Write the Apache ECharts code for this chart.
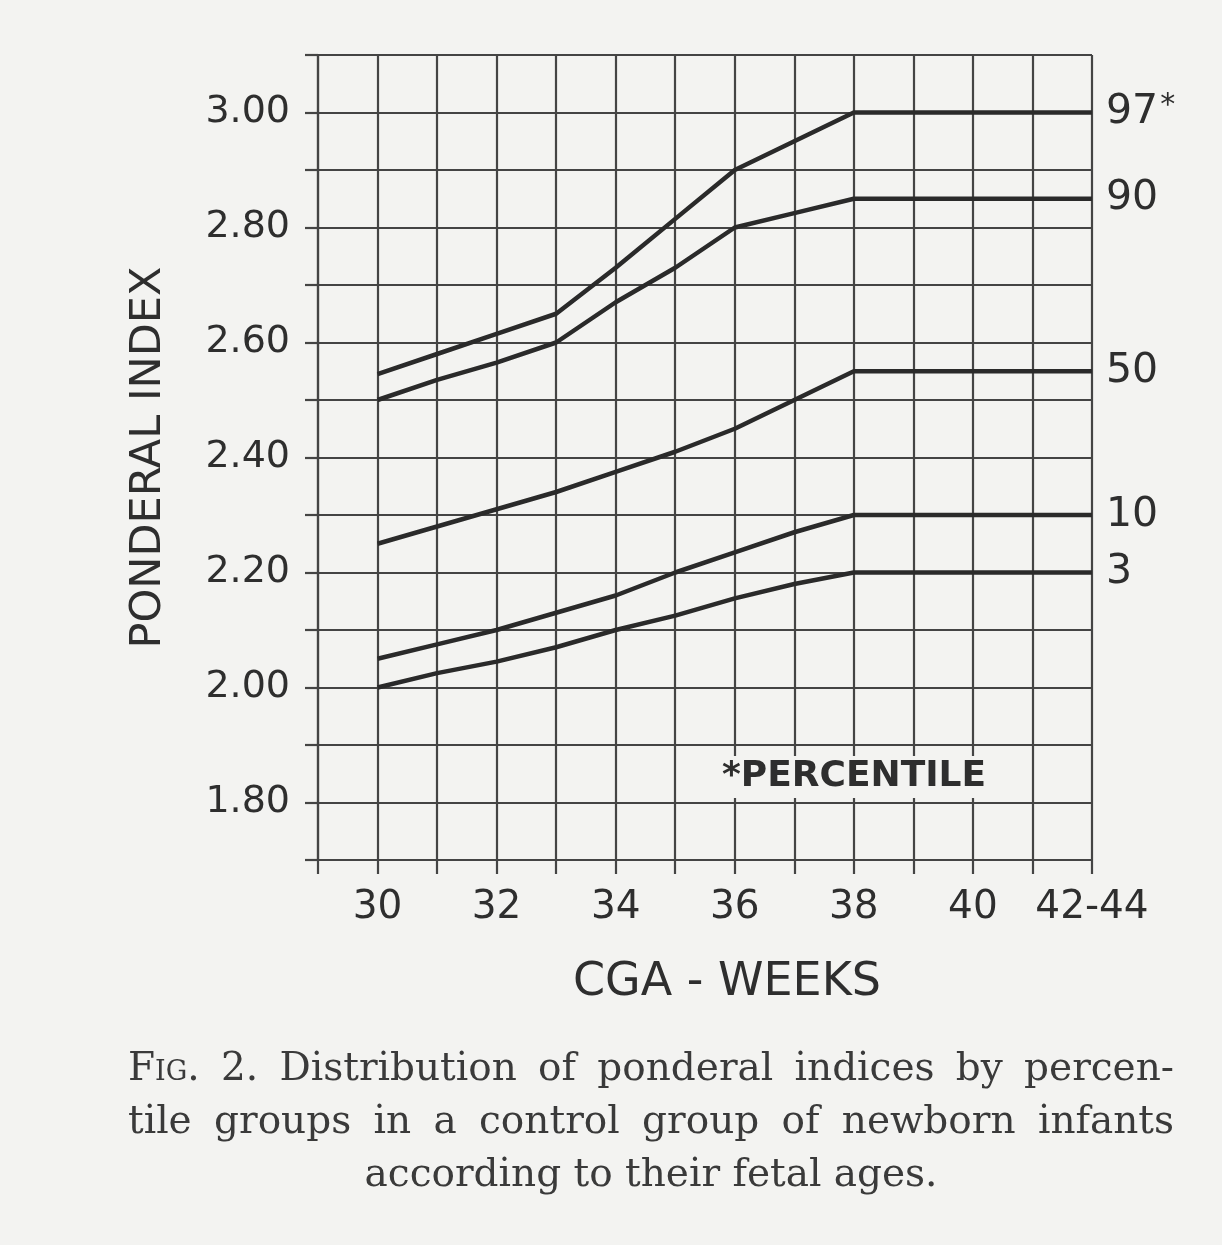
<!DOCTYPE html>
<html>
<head>
<meta charset="utf-8">
<script src="https://cdn.jsdelivr.net/npm/echarts@6/dist/echarts.min.js"></script>
<style>
    html, body { margin: 0; padding: 0; background: #f3f3f1; }
    #chart { width: 1222px; height: 1245px; }
    .caption {
        position: absolute;
        left: 128px;
        width: 1046px;
        font-family: "DejaVu Serif", serif;
        font-size: 39px;
        color: #3a3a3a;
        line-height: 53px;
        white-space: nowrap;
    }
    .caption div { text-align: justify; text-align-last: justify; }
    .caption div.last { text-align: center; text-align-last: center; }
    .sc { font-variant: small-caps; }
</style>
</head>
<body>
<div id="chart"></div>
<div class="caption" style="top: 1040px;">
    <div><span class="sc">Fig</span>. 2. Distribution of ponderal indices by percen-</div>
    <div>tile groups in a control group of newborn infants</div>
    <div class="last">according to their fetal ages.</div>
</div>
<script>
// CGA weeks (42 stands for the "42-44" column)
const weeks = [30, 31, 32, 33, 34, 35, 36, 37, 38, 42]

// ponderal index by percentile group
const p97 = [2.545, 2.58, 2.615, 2.65, 2.73, 2.815, 2.90, 2.95, 3.00, 3.00]
const p90 = [2.50, 2.535, 2.565, 2.60, 2.67, 2.73, 2.80, 2.825, 2.85, 2.85]
const p50 = [2.25, 2.28, 2.31, 2.34, 2.375, 2.41, 2.45, 2.50, 2.55, 2.55]
const p10 = [2.05, 2.075, 2.10, 2.13, 2.16, 2.20, 2.235, 2.27, 2.30, 2.30]
const p3 = [2.00, 2.025, 2.045, 2.07, 2.10, 2.125, 2.155, 2.18, 2.20, 2.20]

const seriesNames = ['97', '90', '50', '10', '3']
const seriesValues = [p97, p90, p50, p10, p3]

const xTickLabels = { 30: '30', 32: '32', 34: '34', 36: '36', 38: '38', 40: '40', 42: '42-44' }
const yTickLabels = ['1.80', '2.00', '2.20', '2.40', '2.60', '2.80', '3.00']

const ink = '#2e2e2e'
const gridInk = '#444444'
const font = '"DejaVu Sans", sans-serif'

const chart = echarts.init(document.getElementById('chart'))

const series = []
for (let i = 0; i < seriesNames.length; i++) {
    series.push({
        name: seriesNames[i],
        type: 'line',
        data: weeks.map((w, j) => [w, seriesValues[i][j]]),
        symbol: 'none',
        lineStyle: { color: '#2a2a2a', width: 4.5 },
        endLabel: {
            show: true,
            distance: 14,
            color: ink,
            fontFamily: font,
            fontSize: 41,
            formatter(params) {
                return params.seriesName === '97' ? '97{s|*}' : params.seriesName
            },
            rich: {
                s: { fontSize: 30, fontFamily: font, color: ink, verticalAlign: 'top', padding: [0, 0, 12, 2] }
            }
        },
        silent: true,
        z: 3
    })
}

const option = {
    backgroundColor: '#f3f3f1',
    animation: false,
    grid: {
        left: 318,
        right: 130,
        top: 55,
        bottom: 385
    },
    xAxis: {
        type: 'value',
        min: 29,
        max: 42,
        interval: 1,
        name: 'CGA - WEEKS',
        nameLocation: 'middle',
        nameGap: 100,
        nameTextStyle: {
            color: ink,
            fontFamily: font,
            fontSize: 46,
            padding: [0, 0, 0, 44]
        },
        axisLine: { show: true, lineStyle: { color: gridInk, width: 2.2 } },
        axisTick: { show: true, inside: false, length: 14, lineStyle: { color: gridInk, width: 2.2 } },
        axisLabel: {
            margin: 28,
            color: ink,
            fontFamily: font,
            fontSize: 39,
            formatter(v) {
                return xTickLabels[v] || ''
            }
        },
        splitLine: { show: true, lineStyle: { color: gridInk, width: 2.2 } }
    },
    yAxis: {
        type: 'value',
        min: 1.7,
        max: 3.1,
        interval: 0.1,
        name: 'PONDERAL INDEX',
        nameLocation: 'middle',
        nameRotate: 90,
        nameGap: 148,
        nameTextStyle: {
            color: ink,
            fontFamily: font,
            fontSize: 43
        },
        axisLine: { show: true, lineStyle: { color: gridInk, width: 2.2 } },
        axisTick: { show: true, inside: false, length: 13, lineStyle: { color: gridInk, width: 2.2 } },
        axisLabel: {
            margin: 28,
            color: ink,
            fontFamily: font,
            fontSize: 38,
            formatter(v) {
                const s = v.toFixed(2)
                return yTickLabels.indexOf(s) >= 0 ? s : ''
            }
        },
        splitLine: { show: true, lineStyle: { color: gridInk, width: 2.2 } }
    },
    graphic: [{
        type: 'text',
        left: 714,
        top: 756,
        z: 10,
        style: {
            text: '*PERCENTILE',
            fill: ink,
            font: 'bold 36px "DejaVu Sans", sans-serif',
            backgroundColor: '#f3f3f1',
            padding: [3, 8, 3, 8]
        }
    }],
    series: series
}

chart.setOption(option)
</script>
</body>
</html>
